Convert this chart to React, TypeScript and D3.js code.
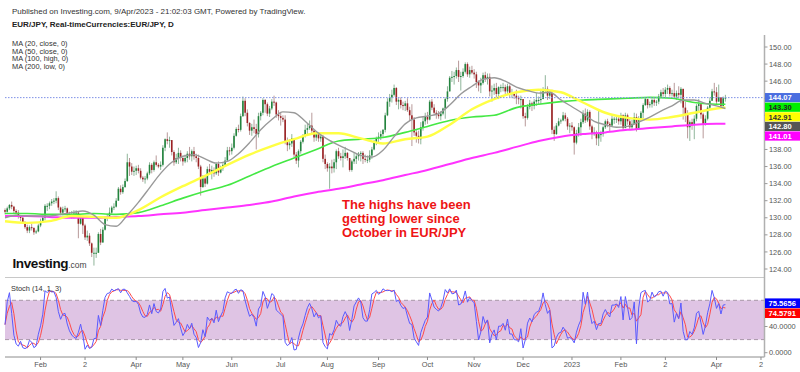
import React from "react";
import * as d3 from "d3";

// ---------- DATA (EUR/JPY daily, 10 Jan 2022 – 7 Apr 2023) ----------
const firstOpen = 130.9;
const closes = [
  // Jan 22
  130.7,131.1,131.5,131.3,130.8,130.6,130.1,130.0,129.5,128.9,128.5,128.9,128.8,128.3,128.4,129.1,
  // Feb
  129.6,130.0,131.4,131.4,131.7,131.9,132.0,132.3,131.2,130.6,131.0,131.1,130.4,130.3,130.4,130.5,130.6,129.3,130.0,129.1,
  // Mar
  127.7,127.9,127.0,125.9,125.9,125.9,128.1,127.1,128.6,129.9,130.1,130.6,131.2,131.3,132.0,133.4,133.0,133.6,134.3,136.5,136.0,135.4,135.5,
  // Apr
  135.8,135.5,134.7,134.5,134.6,135.2,136.2,135.6,136.5,136.2,136.0,136.2,138.2,139.2,139.0,139.1,137.7,136.5,137.0,137.6,137.0,
  // May
  136.6,137.0,137.5,137.2,137.8,137.2,137.0,136.0,133.6,134.6,134.0,135.7,135.4,135.6,135.2,136.3,135.3,135.8,136.2,136.7,137.9,137.8,
  // Jun
  138.2,139.6,140.4,140.3,141.9,143.7,142.3,141.1,140.2,140.6,140.4,139.8,141.9,142.3,143.8,143.3,142.2,142.8,143.6,143.5,142.1,141.9,
  // Jul
  141.7,141.5,139.0,138.5,138.7,139.3,137.4,136.7,137.8,138.9,139.6,140.3,140.5,140.8,140.2,139.4,139.8,139.3,139.5,136.9,136.3,
  // Aug
  135.8,136.0,135.8,136.5,137.8,137.2,137.0,137.2,137.6,137.0,135.6,136.6,136.9,137.2,137.5,137.6,136.9,136.8,136.8,137.3,138.0,138.8,139.3,
  // Sep
  139.5,139.8,140.3,142.0,143.6,144.1,144.4,145.2,143.6,143.8,143.2,143.1,143.4,142.6,142.0,141.5,140.0,139.6,139.2,140.6,141.3,141.8,
  // Oct
  141.5,143.6,142.9,142.3,142.1,141.9,142.2,142.8,143.9,144.8,146.4,146.5,146.6,147.3,146.5,146.6,147.1,148.0,146.8,147.3,147.0,
  // Nov
  146.8,145.9,145.5,145.8,146.7,146.3,146.5,144.8,144.9,145.2,144.5,145.3,145.3,145.3,144.8,145.4,144.6,144.6,144.3,144.0,143.9,143.9,
  // Dec
  141.9,141.7,143.0,143.4,143.1,143.6,143.8,143.8,143.9,144.9,145.1,144.3,144.6,140.3,139.8,140.8,141.3,141.4,142.0,141.6,140.7,140.8,
  // Jan 23
  140.6,138.8,139.9,140.6,141.2,142.2,141.4,142.4,140.7,139.8,140.0,139.3,139.8,139.8,140.6,141.3,141.0,140.8,141.6,141.6,141.6,141.3,
  // Feb 23
  142.0,140.5,142.0,141.3,140.6,141.0,141.8,140.4,141.6,142.3,143.2,143.9,143.2,143.3,143.8,143.5,143.6,144.2,144.7,144.5,
  // Mar 23
  145.0,145.2,144.5,144.6,144.2,144.6,144.4,145.1,142.9,142.1,140.6,141.2,140.9,141.6,143.1,143.3,142.1,140.9,141.6,142.9,143.7,144.8,144.7,
  // Apr 23
  143.6,144.1,143.1,144.0,144.07,
];
const highs = [
  131.1,131.3,131.6,131.9,131.4,131.0,130.9,130.3,130.2,129.6,129.2,129.1,129.3,128.9,128.6,129.3,
  129.9,130.3,131.6,131.7,131.9,132.2,132.3,133.1,132.5,131.3,131.3,131.4,131.2,130.7,130.8,130.9,130.9,130.7,130.3,129.8,
  129.3,128.5,128.2,127.1,126.5,126.5,128.3,128.7,128.9,130.2,130.5,131.2,131.4,131.7,132.3,133.6,133.8,133.9,134.6,137.5,137.0,136.4,136.0,
  136.1,136.2,135.8,134.9,134.9,135.4,136.5,136.4,136.7,137.3,136.4,136.6,138.5,139.3,140.0,139.5,139.1,137.9,137.5,138.2,137.9,
  137.2,137.4,137.8,138.3,138.0,138.3,137.5,137.4,136.2,135.0,134.9,136.0,136.3,136.1,135.9,136.5,136.6,136.1,136.5,137.1,138.3,138.3,
  138.7,139.9,140.6,140.9,142.2,144.2,144.0,142.7,141.2,141.0,141.5,141.0,142.3,142.5,144.0,143.9,143.5,143.1,143.9,144.3,143.6,142.6,
  142.4,142.0,142.0,139.4,139.2,139.8,139.3,137.7,138.0,139.1,139.8,140.9,141.0,141.4,142.3,140.3,140.1,139.9,139.9,139.7,137.4,
  136.5,136.4,136.8,136.9,138.0,138.2,137.6,138.0,138.3,137.7,137.0,136.8,137.7,137.5,137.7,137.8,137.8,137.4,137.3,137.9,138.3,139.1,139.5,
  140.0,140.2,140.4,142.3,144.0,144.5,145.0,145.6,145.3,144.0,144.1,143.6,143.7,144.0,143.0,143.3,141.8,140.4,140.2,141.2,141.9,142.3,
  142.4,143.8,143.9,143.3,142.6,142.5,142.5,142.9,144.1,145.4,146.6,147.2,147.1,147.6,148.4,147.1,147.5,148.2,148.2,147.7,147.8,
  147.4,147.1,146.1,146.4,147.0,147.1,146.9,146.9,145.5,145.7,145.8,145.4,145.6,145.8,145.6,145.7,145.6,145.1,144.7,145.0,144.3,144.3,
  143.9,142.3,143.3,143.8,143.6,143.9,144.6,144.2,145.1,145.3,146.7,145.4,145.0,145.0,140.7,141.1,141.7,141.6,142.4,142.3,141.8,141.1,
  141.2,140.7,140.3,141.1,141.6,142.6,142.8,142.7,142.6,140.9,140.6,140.2,142.6,140.2,140.8,141.5,141.6,141.2,142.0,141.8,142.0,141.8,
  142.3,142.1,142.3,142.2,141.6,141.5,142.3,142.2,141.9,142.5,143.4,144.1,143.9,143.6,144.0,144.0,143.8,144.5,145.0,145.2,
  145.3,145.6,145.4,145.0,145.8,144.9,145.4,145.3,145.1,143.6,142.6,141.4,141.6,142.0,143.3,143.9,143.3,142.3,142.0,143.1,144.1,145.1,145.8,
  145.3,145.6,144.1,144.2,144.4,
];
const lows = [
  130.4,130.6,130.9,131.0,130.5,130.4,129.9,129.6,129.3,128.7,128.2,128.2,128.5,128.0,128.1,128.3,
  128.9,129.4,129.7,130.8,131.0,131.4,131.6,131.7,130.9,130.3,130.3,130.7,130.2,130.0,129.9,129.9,130.4,127.6,129.2,128.1,
  127.4,127.3,126.7,125.4,124.4,125.3,125.9,126.8,127.1,128.5,129.6,129.9,130.4,130.9,131.2,132.0,132.7,132.8,133.5,134.2,134.9,135.0,134.9,
  135.0,135.2,134.5,134.2,134.0,134.4,135.0,135.2,135.4,136.0,135.8,135.6,136.0,137.8,138.6,138.2,137.3,136.1,136.3,136.3,136.6,
  136.1,136.4,136.5,136.8,136.6,136.8,136.5,135.7,132.6,133.5,133.6,133.9,135.1,134.5,134.8,135.0,134.9,135.2,135.5,136.0,136.8,137.3,
  137.4,138.0,139.5,140.0,140.1,141.8,141.9,140.7,139.7,139.6,139.9,138.0,139.4,141.4,142.0,142.3,141.9,141.8,142.6,143.1,141.7,141.4,
  140.8,141.2,138.6,137.8,138.0,138.3,137.1,136.3,135.9,137.5,138.7,139.4,139.8,140.3,139.9,138.9,139.0,138.9,138.9,136.5,135.7,
  135.4,133.4,135.2,135.3,135.7,136.9,136.7,135.9,136.9,136.7,135.4,135.4,136.3,136.3,136.7,136.6,136.3,136.5,136.4,136.5,136.9,137.9,138.5,
  138.8,139.1,139.4,140.0,141.9,143.0,143.5,144.2,143.2,142.7,142.8,142.6,142.5,142.4,141.3,138.4,139.6,138.8,138.7,138.6,140.2,140.9,
  141.0,141.4,142.6,142.1,141.6,141.6,141.4,142.0,141.6,143.6,144.9,145.9,145.6,146.3,145.9,144.9,146.4,146.9,146.5,146.4,146.8,
  146.3,145.2,144.8,144.6,145.6,145.9,145.6,144.2,143.6,144.4,144.0,143.9,144.7,144.8,144.5,144.4,144.1,144.0,143.9,143.3,143.3,142.8,
  141.6,140.7,141.5,142.7,142.5,142.7,143.1,143.3,143.3,143.9,144.6,143.8,143.9,139.8,139.0,139.7,140.7,141.0,141.3,141.3,140.3,139.9,
  140.2,137.4,138.6,139.5,139.6,141.0,141.1,141.2,140.3,139.2,139.6,138.5,138.4,138.9,139.5,140.4,140.6,140.1,140.7,141.0,141.1,140.9,
  140.9,140.2,140.6,140.9,140.3,140.4,140.9,140.1,140.6,141.3,141.6,143.1,142.8,142.9,142.9,143.1,143.1,143.3,144.0,144.2,
  144.1,144.5,144.2,144.2,144.0,143.8,144.0,143.4,141.5,141.2,139.3,139.0,140.3,139.2,141.3,142.5,141.6,139.3,140.8,141.4,142.6,143.7,144.3,
  143.2,143.6,142.9,142.9,143.6,
];

// Moving averages: MA20 every 5 bars, others every 10 bars (last point = last bar)
const ma20 = [
  130.0,130.3,130.2,130.2,130.2,130.4,130.6,130.8,130.3,129.2,129.0,130.3,131.8,133.5,135.2,136.5,137.2,137.4,136.9,136.4,
  136.6,137.5,138.8,140.3,141.5,142.4,142.3,141.3,140.1,139.2,138.5,137.9,137.3,137.1,137.9,139.5,141.0,141.7,141.9,142.2,
  143.2,144.5,145.4,146.2,146.4,146.0,145.3,144.9,144.6,144.7,143.8,143.0,142.2,141.3,140.9,140.6,140.7,141.2,141.8,142.5,
  143.1,143.8,143.8,143.4,143.1,142.8,
];
const ma50 = [
  129.6,129.4,129.6,130.2,130.1,130.0,130.9,132.4,133.7,134.9,136.2,137.4,138.4,139.2,139.9,139.9,139.3,138.7,139.2,139.5,
  140.9,142.7,143.9,144.7,145.0,144.7,143.5,142.3,141.7,141.5,141.8,142.3,142.8,142.91,
];
const ma100 = [
  130.5,130.5,130.4,130.4,130.5,130.4,130.6,131.4,132.3,133.1,133.8,134.9,136.0,137.0,138.0,139.0,139.2,139.4,140.0,140.7,
  141.4,141.8,142.0,142.9,143.3,143.6,143.8,143.9,144.0,144.1,144.0,143.5,143.3,143.30,
];
const ma200 = [
  130.2,130.2,130.1,130.0,130.0,130.1,130.2,130.4,130.6,130.9,131.2,131.5,131.9,132.5,133.0,133.4,133.9,134.4,135.0,135.6,
  136.3,137.0,137.6,138.3,139.0,139.5,139.8,140.0,140.3,140.5,140.7,140.9,141.0,141.01,
];

const monthLabels = ["Feb", "2", "Apr", "May", "Jun", "Jul", "Aug", "Sep", "Oct", "Nov", "Dec", "2023", "Feb", "2", "Apr", "2"];
const priceTicks = [124, 126, 128, 130, 132, 134, 136, 138, 140, 142, 144, 146, 148, 150];
const stochTicks = [0, 40, 80];
const lastPrice = 144.07;
const stochLastK = 75.5656;
const stochLastD = 74.5791;
const legendLines = ["MA (20, close, 0)", "MA (50, close, 0)", "MA (100, high, 0)", "MA (200, low, 0)"];
const annotation = ["The highs have been", "getting lower since", "October in EUR/JPY"];

const FONT = "'Liberation Sans', Arial, Helvetica, sans-serif";

export default function App() {
  const n = closes.length;
  const days = d3
    .timeDay.range(new Date(2022, 0, 10), new Date(2023, 4, 6))
    .filter((d) => d.getDay() !== 0 && d.getDay() !== 6);

  const X0 = 5;
  const AX = 764.5;
  const x = d3.scaleLinear().domain([0, n - 1]).range([X0, 725.4]);
  const y = d3.scaleLinear().domain([124, 150]).range([269, 47]);
  const ys = d3.scaleLinear().domain([0, 100]).range([352.7, 287.2]);

  const opens = closes.map((c, i) => (i === 0 ? firstOpen : closes[i - 1]));

  const monthTicks: number[] = [];
  days.forEach((d, i) => {
    if (i > 0 && d.getMonth() !== days[i - 1].getMonth()) monthTicks.push(i);
  });

  // Stochastic (14,1,3)
  const K = closes.map((c, i) => {
    const s = Math.max(0, i - 13);
    const lo = d3.min(lows.slice(s, i + 1)) as number;
    const hi = d3.max(highs.slice(s, i + 1)) as number;
    return hi === lo ? 50 : (100 * (c - lo)) / (hi - lo);
  });
  const Dv = K.map((_, i) => d3.mean(K.slice(Math.max(0, i - 2), i + 1)) as number);

  const samples = (vals: number[], step: number): [number, number][] =>
    vals.map((v, j) => [j === vals.length - 1 ? n - 1 : j * step, v]);
  const maLine = d3
    .line<[number, number]>()
    .x((d) => x(d[0]))
    .y((d) => y(d[1]))
    .curve(d3.curveMonotoneX);
  const stLine = d3
    .line<number>()
    .x((_, i) => x(i))
    .y((d) => ys(d));

  // value labels on price axis (stacked)
  const priceLabels = [
    { v: lastPrice, bg: "#4a6ee0", fg: "#fff" },
    { v: ma100[ma100.length - 1], bg: "#00f000", fg: "#222" },
    { v: ma50[ma50.length - 1], bg: "#ffff00", fg: "#333" },
    { v: ma20[ma20.length - 1], bg: "#555555", fg: "#fff" },
    { v: ma200[ma200.length - 1], bg: "#ff00ff", fg: "#fff" },
  ];
  let prev = -Infinity;
  const placed = priceLabels.map((l) => {
    const py = Math.max(y(l.v), prev + 9.6);
    prev = py;
    return { ...l, py };
  });
  const stLabels = [
    { v: stochLastK, bg: "#0000ff", fg: "#fff" },
    { v: stochLastD, bg: "#ff0000", fg: "#fff" },
  ];
  let prevS = -Infinity;
  const placedS = stLabels.map((l) => {
    const py = Math.max(ys(l.v), prevS + 10);
    prevS = py;
    return { ...l, py };
  });

  const up = "#23843e";
  const down = "#9c2224";

  return (
    <svg
      width={800}
      height={372}
      style={{ position: "absolute", left: 0, top: 0, background: "#fff" }}
      fontFamily={FONT}
    >
      <rect x={0} y={0} width={800} height={372} fill="#fff" />
      {/* header */}
      <text x={12} y={13.5} fontSize={8} fill="#333">
        Published on Investing.com, 9/Apr/2023 - 21:02:03 GMT, Powered by TradingView.
      </text>
      <text x={12} y={27} fontSize={8} fontWeight="bold" fill="#222">
        EUR/JPY, Real-timeCurrencies:EUR/JPY, D
      </text>
      {legendLines.map((t, i) => (
        <text key={t} x={12} y={46 + i * 7.5} fontSize={7.4} fill="#333">
          {t}
        </text>
      ))}

      {/* stoch band */}
      <rect x={X0} y={ys(80)} width={AX - X0} height={ys(20) - ys(80)} fill="#dfc4e4" />
      {[80, 20].map((v) => (
        <line key={v} x1={X0} x2={AX} y1={ys(v)} y2={ys(v)} stroke="#a897a8" strokeDasharray="4,3" strokeWidth={1} />
      ))}

      {/* candles */}
      {closes.map((c, i) => {
        const o = opens[i];
        const isUp = c >= o;
        const hi = Math.max(highs[i], o, c);
        const lo = Math.min(lows[i], o, c);
        const top = y(Math.max(o, c));
        const h = Math.max(1, Math.abs(y(o) - y(c)));
        return (
          <g key={i}>
            <line x1={x(i)} x2={x(i)} y1={y(hi)} y2={y(lo)} stroke={isUp ? "#8fb59a" : "#b89a9a"} strokeWidth={1} />
            <rect x={x(i) - 0.8} y={top} width={1.6} height={h} fill={isUp ? up : down} />
          </g>
        );
      })}

      {/* moving averages */}
      <path d={maLine(samples(ma200, 10)) as string} fill="none" stroke="#ff33ff" strokeWidth={2} />
      <path d={maLine(samples(ma100, 10)) as string} fill="none" stroke="#44e844" strokeWidth={1.6} />
      <path d={maLine(samples(ma50, 10)) as string} fill="none" stroke="#ffff44" strokeWidth={2.4} />
      <path d={maLine(samples(ma20, 5)) as string} fill="none" stroke="#999999" strokeWidth={1.4} />

      {/* last price dotted line */}
      <line x1={X0} x2={AX} y1={y(lastPrice)} y2={y(lastPrice)} stroke="#7d8fe6" strokeDasharray="1.5,1.5" strokeWidth={1} />

      {/* stoch lines */}
      <path d={stLine(Dv) as string} fill="none" stroke="#ff4a4a" strokeWidth={1} />
      <path d={stLine(K) as string} fill="none" stroke="#5a5aff" strokeWidth={1} />

      {/* Investing logo */}
      <text x={12.5} y={267.5} fontSize={13.5} fontWeight="bold" fill="#111" letterSpacing={-0.4}>
        Investing
        <tspan fontSize={8.5} fontWeight="normal" fill="#444" letterSpacing={0}>
          .com
        </tspan>
      </text>

      {/* annotation */}
      {annotation.map((t, i) => (
        <text key={t} x={342} y={208.5 + i * 14} fontSize={13} fontWeight="bold" fill="#ee1515">
          {t}
        </text>
      ))}

      {/* panel separators and axes */}
      <line x1={X0} x2={AX} y1={277.5} y2={277.5} stroke="#c8c8c8" strokeWidth={1} />
      <text x={11} y={291} fontSize={7.4} fill="#333">
        Stoch (14, 1, 3)
      </text>
      <line x1={X0} x2={AX} y1={357} y2={357} stroke="#8c8c8c" strokeWidth={1} />
      <line x1={AX} x2={AX} y1={35} y2={357} stroke="#b0b0b0" strokeWidth={1.5} />

      {/* time axis */}
      {monthTicks.map((idx, k) => (
        <g key={idx}>
          <line x1={x(idx)} x2={x(idx)} y1={357} y2={360} stroke="#8c8c8c" />
          <text x={x(idx)} y={367} fontSize={7.4} fill="#555" textAnchor="middle">
            {monthLabels[k]}
          </text>
        </g>
      ))}

      {/* price axis */}
      {priceTicks.map((v) => {
        const py = y(v);
        const hidden = placed.some((p) => Math.abs(p.py - py) < 8);
        return (
          <g key={v}>
            <line x1={AX} x2={AX + 3} y1={py} y2={py} stroke="#999" />
            {!hidden && (
              <text x={769} y={py + 2.6} fontSize={7.4} fill="#555">
                {v.toFixed(2)}
              </text>
            )}
          </g>
        );
      })}
      {placed.map((p) => (
        <g key={p.bg}>
          <rect x={765} y={p.py - 4.6} width={35} height={9.2} fill={p.bg} />
          <text x={768.5} y={p.py + 2.7} fontSize={7.6} fontWeight="bold" fill={p.fg}>
            {p.v.toFixed(2)}
          </text>
        </g>
      ))}

      {/* stoch axis */}
      {stochTicks.map((v) => {
        const py = ys(v);
        const hidden = placedS.some((p) => Math.abs(p.py - py) < 8);
        return (
          <g key={v}>
            <line x1={AX} x2={AX + 3} y1={py} y2={py} stroke="#999" />
            {!hidden && (
              <text x={769} y={py + 2.6} fontSize={7.4} fill="#555">
                {v.toFixed(4)}
              </text>
            )}
          </g>
        );
      })}
      {placedS.map((p) => (
        <g key={p.bg}>
          <rect x={765} y={p.py - 4.8} width={35} height={9.6} fill={p.bg} />
          <text x={768.5} y={p.py + 2.7} fontSize={7.6} fontWeight="bold" fill={p.fg}>
            {p.v.toFixed(4)}
          </text>
        </g>
      ))}
    </svg>
  );
}
